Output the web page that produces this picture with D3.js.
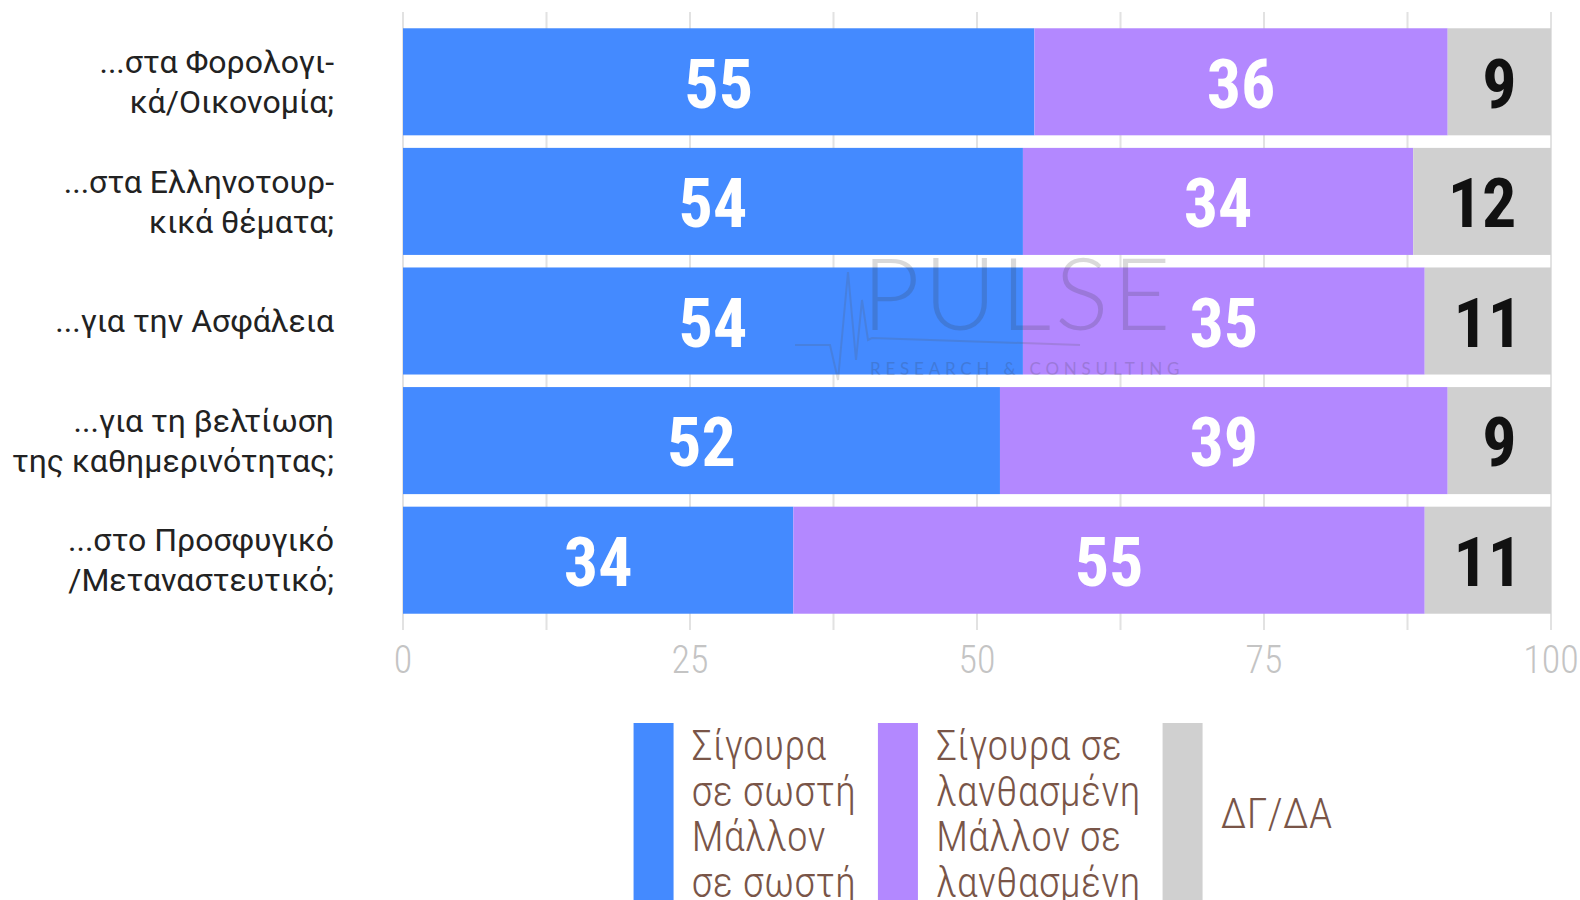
<!DOCTYPE html>
<html>
<head>
<meta charset="utf-8">
<script src="https://cdn.jsdelivr.net/npm/d3@7"></script>
<style>
  body { margin: 0; background: #fff; }
  svg text { font-family: "Roboto Condensed", "Liberation Sans Narrow", "DejaVu Sans Condensed", Roboto, sans-serif; font-stretch: condensed; }
</style>
</head>
<body>
<script>
// data
const categories = [
  ["...στα Φορολογι-", "κά/Οικονομία;"],
  ["...στα Ελληνοτουρ-", "κικά θέματα;"],
  ["...για την Ασφάλεια"],
  ["...για τη βελτίωση", "της καθημερινότητας;"],
  ["...στο Προσφυγικό", "/Μεταναστευτικό;"]
];
const sureRight = [55, 54, 54, 52, 34];
const sureWrong = [36, 34, 35, 39, 55];
const dkna = [9, 12, 11, 9, 11];
const seriesNames = [
  ["Σίγουρα", "σε σωστή", "Μάλλον", "σε σωστή"],
  ["Σίγουρα σε", "λανθασμένη", "Μάλλον σε", "λανθασμένη"],
  ["ΔΓ/ΔΑ"]
];
const colors = ["#448aff", "#b388ff", "#d0d0d0"];
const labelColors = ["#fff", "#fff", "#111"];
const xTicks = [0, 25, 50, 75, 100];

window.onload = function () {
  let width = 1580, height = 900;
  let svg = d3.select("body").append("svg")
    .attr("width", width).attr("height", height);

  let x = d3.scaleLinear().domain([0, 100]).range([403, 1551]);
  let y = d3.scaleBand()
    .domain(d3.range(categories.length))
    .range([22, 620])
    .paddingInner(0.105)
    .paddingOuter(0.0525);

  // grid lines (every 12.5)
  svg.append("g").selectAll("line")
    .data(d3.range(0, 100.1, 12.5))
    .join("line")
    .attr("x1", d => x(d)).attr("x2", d => x(d))
    .attr("y1", 12).attr("y2", 630)
    .attr("stroke", "#e2e2e2").attr("stroke-width", 2);

  // tick labels
  svg.append("g").selectAll("text")
    .data(xTicks)
    .join("text")
    .attr("x", d => x(d))
    .attr("y", 673)
    .attr("text-anchor", "middle")
    .attr("font-size", 38)
    .attr("font-weight", 300)
    .attr("fill", "#c4c4c4")
    .text(d => d);

  // stack
  let rows = categories.map((c, i) => ({ i, a: sureRight[i], b: sureWrong[i], c: dkna[i] }));
  let stack = d3.stack().keys(["a", "b", "c"])(rows);

  let layers = svg.append("g").selectAll("g")
    .data(stack)
    .join("g")
    .attr("fill", (d, k) => colors[k]);
  layers.selectAll("rect")
    .data(d => d)
    .join("rect")
    .attr("x", d => x(d[0]))
    .attr("width", d => x(d[1]) - x(d[0]))
    .attr("y", d => y(d.data.i))
    .attr("height", y.bandwidth());

  // watermark
  let wm = svg.append("g").attr("opacity", 0.18).attr("pointer-events", "none");
  wm.append("text")
    .attr("x", 862).attr("y", 330)
    .attr("font-size", 100).attr("font-weight", 300)
    .attr("letter-spacing", 4)
    .attr("fill", "#333")
    .style("font-family", "Lato, Roboto, sans-serif")
    .text("PULSE");
  wm.append("text")
    .attr("x", 870).attr("y", 375)
    .attr("font-size", 17)
    .attr("letter-spacing", 4.8)
    .attr("fill", "#333")
    .style("font-family", "Lato, Roboto, sans-serif")
    .text("RESEARCH & CONSULTING");
  wm.append("path")
    .attr("d", "M795,345 L830,345 L838,380 L848,272 L856,360 L862,300 L868,340 L872,338 L1080,345")
    .attr("fill", "none").attr("stroke", "#555").attr("stroke-width", 2);

  // value labels
  let labels = svg.append("g");
  stack.forEach((layer, k) => {
    labels.selectAll(null)
      .data(layer)
      .join("text")
      .attr("x", d => (x(d[0]) + x(d[1])) / 2)
      .attr("y", d => y(d.data.i) + y.bandwidth() / 2)
      .attr("dy", "0.38em")
      .attr("text-anchor", "middle")
      .attr("font-size", 68)
      .attr("font-weight", 700)
      .attr("fill", labelColors[k])
      .text(d => d[1] - d[0]);
  });

  // category labels
  let cat = svg.append("g").selectAll("text")
    .data(categories)
    .join("text")
    .attr("text-anchor", "end")
    .attr("font-size", 32)
    .attr("fill", "#222")
    .style("font-family", "Roboto, sans-serif")
    .style("font-stretch", "normal");
  cat.selectAll("tspan")
    .data((d, i) => d.map((t, j) => ({ t, j, n: d.length, i })))
    .join("tspan")
    .attr("x", 334)
    .attr("y", d => y(d.i) + y.bandwidth() / 2 + (d.j - (d.n - 1) / 2) * 40)
    .attr("dy", "0.35em")
    .text(d => d.t);

  // legend
  let lineH = 45.5, swW = 40, top = 723;
  let leg = svg.append("g");
  let items = seriesNames.map((lines, k) => {
    let g = leg.append("g");
    g.append("rect").attr("width", swW).attr("height", 180).attr("y", top).attr("fill", colors[k]);
    let t = g.append("text")
      .attr("font-size", 43)
      .attr("font-weight", 300)
      .attr("fill", "#795548");
    let off = lines.length === 1 ? 1.5 * lineH : 0;
    t.selectAll("tspan").data(lines).join("tspan")
      .attr("x", swW + 18)
      .attr("y", (d, j) => top + 37 + off + j * lineH)
      .text(d => d);
    return { g, w: swW + 18 + t.node().getBBox().width };
  });
  let gap = 22;
  let total = d3.sum(items, d => d.w) + gap * (items.length - 1);
  let cx = (x(0) + x(100)) / 2 - total / 2 + 6;
  items.forEach(it => {
    it.g.attr("transform", `translate(${cx},0)`);
    cx += it.w + gap;
  });
};
</script>
</body>
</html>
